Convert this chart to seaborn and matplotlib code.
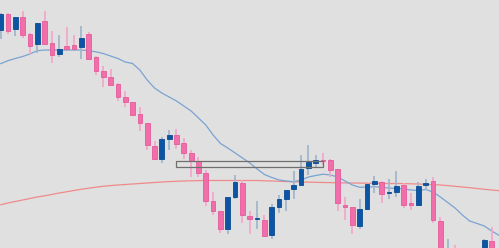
import numpy as np
import pandas as pd
import matplotlib
matplotlib.use("Agg")
import matplotlib.pyplot as plt
from matplotlib.patches import Rectangle
import seaborn as sns

# OHLC prices (one entry per candle, left to right)
opens = [1970, 1986, 1970.7, 1983.3, 1966, 1956, 1978.7, 1956.7, 1946, 1954,
         1955.3, 1953.3, 1966, 1943.3, 1928.7, 1922.7, 1916, 1903.3, 1898, 1886,
         1876.7, 1854, 1840.7, 1860.7, 1864.7, 1856.7, 1847.3, 1839.5, 1827.3, 1799.3,
         1788.7, 1771.3, 1803.3, 1817.3, 1784, 1781, 1780, 1764.7, 1792.7, 1800.7,
         1811.3, 1815.3, 1832, 1836.7, 1840, 1840.3, 1830.7, 1795.3, 1792.7, 1774,
         1790.7, 1816, 1818, 1806.7, 1808, 1814.7, 1796.7, 1794.7, 1814.7, 1819.3,
         1778.7, 1742, 1750, 1742, 1734, 1742, 1749, 1759.5, 1748]
highs = [1987, 1987.3, 1983.3, 1989.3, 1966.7, 1977.3, 1988.7, 1968.7, 1965.3, 1972.7,
         1965.3, 1974, 1968, 1944, 1934, 1930.7, 1917.3, 1909.3, 1898.5, 1893.3,
         1877, 1858.7, 1863.3, 1870, 1870.7, 1862, 1850, 1843, 1830, 1808,
         1789, 1803, 1824.7, 1820, 1788.7, 1798.7, 1785.3, 1796, 1805.3, 1810.5,
         1828.7, 1844.7, 1854.7, 1845, 1847.3, 1841.3, 1831, 1803.3, 1793, 1800.7,
         1816.3, 1824, 1818.7, 1820.7, 1829.3, 1816.7, 1806.7, 1818, 1821.3, 1822.7,
         1783.3, 1760.7, 1754.7, 1745, 1746, 1751, 1760.7, 1773.3, 1750]
lows = [1960.7, 1966, 1964, 1962, 1946, 1947.3, 1955.3, 1936.7, 1943.3, 1951.3,
        1951.3, 1941.3, 1940.7, 1924.7, 1912.7, 1914.7, 1899.3, 1892.7, 1884.7, 1868.7,
        1850, 1840, 1836.7, 1850, 1851.3, 1840.7, 1822.7, 1822.7, 1794, 1784.7,
        1766.7, 1766, 1800.7, 1777.3, 1766, 1770.7, 1763.3, 1760.7, 1786.7, 1789.3,
        1801.3, 1815, 1825.5, 1832.5, 1834.7, 1822.7, 1789.3, 1780, 1766, 1771.3,
        1790.3, 1807.3, 1796.7, 1800.7, 1803.3, 1792, 1790, 1794.3, 1810, 1776.7,
        1744, 1738, 1739, 1730, 1732, 1738, 1745, 1744, 1735]
closes = [1986, 1969.3, 1982.7, 1964.7, 1954, 1976.7, 1956, 1945.3, 1950.7, 1951.3,
          1951.3, 1962, 1941.3, 1928.7, 1923.3, 1915.3, 1903.3, 1898, 1885.3, 1876.7,
          1854.7, 1840.7, 1860.7, 1864.7, 1856, 1847.3, 1838.7, 1826.7, 1798.7, 1788.7,
          1770.7, 1802.7, 1818, 1784.7, 1780.7, 1781.7, 1764, 1793.3, 1800.7, 1810,
          1815.3, 1831.5, 1838, 1840, 1838.7, 1830.3, 1796.7, 1792.7, 1774.7, 1791.3,
          1816, 1818.7, 1806, 1808, 1814, 1794.7, 1794.7, 1814, 1817.3, 1780,
          1748, 1750, 1742, 1734, 1742, 1749, 1760.5, 1748, 1738]

# moving averages as drawn on the chart
ma_fast = [1936.3, 1939.3, 1941.5, 1943.5, 1946, 1949.3, 1950, 1950, 1950, 1950,
           1950, 1950, 1949.3, 1948.2, 1946.5, 1944, 1941.5, 1938, 1936.5, 1930,
           1920, 1912, 1907, 1903, 1899, 1894, 1889, 1882, 1875, 1865,
           1856.5, 1852, 1847, 1842, 1837, 1831, 1825.5, 1822.5, 1820, 1819,
           1818.3, 1820, 1823, 1824.5, 1825.8, 1825, 1823, 1819, 1815, 1812.7,
           1813, 1813.3, 1812.7, 1812, 1811.5, 1811, 1810, 1809.5, 1810.5, 1808,
           1803, 1797.5, 1792, 1785, 1779, 1776.5, 1774, 1769, 1764.7]
ma_slow = [1795.2, 1797, 1798.5, 1800, 1801.5, 1803, 1804.2, 1805.5, 1807, 1808.2,
           1809.5, 1810.7, 1811.8, 1812.8, 1813.7, 1814.4, 1815, 1815.5, 1816, 1816.5,
           1817, 1817.5, 1818, 1818.4, 1818.7, 1819, 1819.2, 1819.4, 1819.5, 1819.5,
           1819.5, 1819.5, 1819.5, 1819.5, 1819.5, 1819.5, 1819.2, 1819, 1818.7, 1818.4,
           1818.2, 1818, 1817.8, 1817.7, 1817.5, 1817.4, 1817.2, 1817.1, 1817, 1816.9,
           1816.8, 1816.7, 1816.6, 1816.5, 1816.5, 1816.4, 1816.2, 1816, 1815.7, 1815.4,
           1815, 1814.4, 1813.7, 1813, 1812.3, 1811.5, 1810.7, 1810, 1809.3]

# marked zone (candle index range and price range)
zone_start, zone_end = 24, 44
zone_low, zone_high = 1832.7, 1838.7

df = pd.DataFrame({"open": opens, "high": highs, "low": lows, "close": closes,
                   "ma_fast": ma_fast, "ma_slow": ma_slow})
df["idx"] = np.arange(len(df))
up = df["close"] >= df["open"]

bg = "#e0e0e0"
sns.set_style("white", {"axes.facecolor": bg, "figure.facecolor": bg})

fig = plt.figure(figsize=(4.99, 2.48), dpi=100)
ax = fig.add_axes([0, 0, 1, 1])
ax.set_facecolor(bg)

# moving averages
sns.lineplot(data=df, x="idx", y="ma_slow", ax=ax, color="#f08a8a", lw=0.9, zorder=1)
sns.lineplot(data=df, x="idx", y="ma_fast", ax=ax, color="#7aa3d2", lw=0.9, zorder=1)

# wicks
ax.vlines(df.loc[up, "idx"], df.loc[up, "low"], df.loc[up, "high"],
          color="#a3b6cb", lw=1.3, zorder=2)
ax.vlines(df.loc[~up, "idx"], df.loc[~up, "low"], df.loc[~up, "high"],
          color="#f2a9ca", lw=1.3, zorder=2)

# bodies
body = (df["close"] - df["open"]).abs().clip(lower=0.9)
bottom = df[["open", "close"]].min(axis=1)
ax.bar(df.loc[up, "idx"], body[up], bottom=bottom[up], width=0.64,
       color="#0c55a4", edgecolor="#0a4b92", lw=0.6, zorder=3)
ax.bar(df.loc[~up, "idx"], body[~up], bottom=bottom[~up], width=0.64,
       color="#f16eaa", edgecolor="#e65a9c", lw=0.6, zorder=3)

# zone box
ax.add_patch(Rectangle((zone_start, zone_low), zone_end - zone_start,
                       zone_high - zone_low, fill=False,
                       edgecolor="#6f6f6f", lw=0.9, zorder=4))

ax.set_xlim(-0.08, 68.0)
ax.set_ylim(1752, 2000)
ax.set_axis_off()

fig.savefig("out.png", dpi=100, facecolor=bg)
